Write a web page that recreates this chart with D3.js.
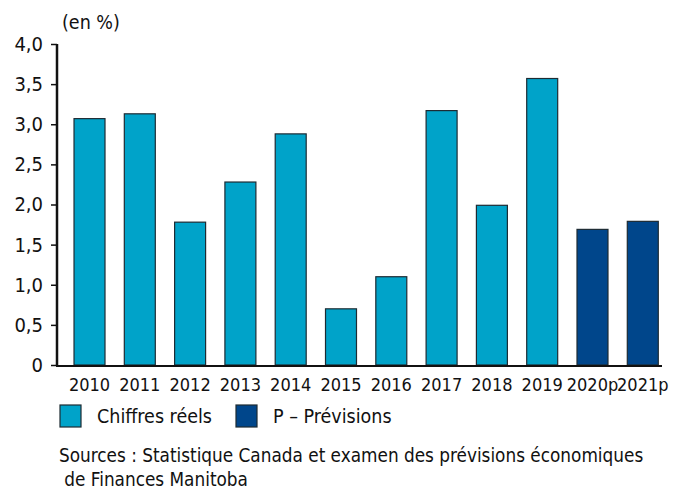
<!DOCTYPE html>
<html>
<head>
<meta charset="utf-8">
<script src="https://cdn.jsdelivr.net/npm/d3@7"></script>
<style>
  body { margin: 0; background: #fff; }
  svg text { font-family: "DejaVu Sans Condensed", "Liberation Sans Narrow", sans-serif; fill: #111; }
</style>
</head>
<body>
<svg id="chart" width="682" height="493"></svg>
<script>
const years = ["2010", "2011", "2012", "2013", "2014", "2015", "2016", "2017", "2018", "2019", "2020p", "2021p"];
const values = [3.07, 3.13, 1.78, 2.28, 2.88, 0.70, 1.10, 3.17, 1.99, 3.57, 1.69, 1.79];
const forecast = [false, false, false, false, false, false, false, false, false, false, true, true];
const yTicks = [0, 0.5, 1, 1.5, 2, 2.5, 3, 3.5, 4];
const legendLabels = ["Chiffres réels", "P – Prévisions"];
const sourceLines = ["Sources : Statistique Canada et examen des prévisions économiques", " de Finances Manitoba"];

const colors = { actual: "#00a3c9", forecast: "#00468b" };

const svg = d3.select("#chart");

const x = d3.scaleBand().domain(years).range([54.7, 677.6]).paddingInner(0.384).paddingOuter(0.384);
const y = d3.scaleLinear().domain([0, 4]).range([365, 44]);

// y axis
const fmt = (d) => (d === 0 ? "0" : d3.format(".1f")(d).replace(".", ","));
const yAxis = svg.append("g")
  .attr("transform", "translate(57,0)")
  .call(d3.axisLeft(y).tickValues(yTicks).tickFormat(fmt).tickSize(6).tickPadding(8));
yAxis.select(".domain").remove();
yAxis.selectAll(".tick line").attr("stroke", "#111").attr("stroke-width", 1.5);
yAxis.selectAll(".tick text").style("font-size", "20px");

svg.append("text").attr("x", 62).attr("y", 29).style("font-size", "19.5px").text("(en %)");

// bars
svg.append("g")
  .selectAll("rect")
  .data(years)
  .join("rect")
  .attr("x", (d) => x(d))
  .attr("y", (d, i) => y(values[i]))
  .attr("width", x.bandwidth())
  .attr("height", (d, i) => y(0) - y(values[i]))
  .attr("fill", (d, i) => (forecast[i] ? colors.forecast : colors.actual))
  .attr("stroke", "#1d2b33")
  .attr("stroke-width", 1.2);

// axis lines
svg.append("line").attr("x1", 57).attr("x2", 57).attr("y1", 44).attr("y2", 366)
  .attr("stroke", "#111").attr("stroke-width", 2.5);
svg.append("line").attr("x1", 56).attr("x2", 662).attr("y1", 366).attr("y2", 366)
  .attr("stroke", "#111").attr("stroke-width", 2);

// x labels
svg.append("g")
  .selectAll("text")
  .data(years)
  .join("text")
  .attr("x", (d) => x(d) + x.bandwidth() / 2)
  .attr("y", 391)
  .attr("text-anchor", "middle")
  .style("font-size", "18px")
  .text((d) => d);

// legend
const legend = svg.append("g");
const legendX = [60, 236];
legendLabels.forEach((label, i) => {
  legend.append("rect")
    .attr("x", legendX[i]).attr("y", 405).attr("width", 21).attr("height", 22)
    .attr("fill", i === 0 ? colors.actual : colors.forecast)
    .attr("stroke", "#1d2b33").attr("stroke-width", 1.2);
  legend.append("text")
    .attr("x", legendX[i] + 37).attr("y", 423)
    .style("font-size", "19.5px")
    .text(label);
});

// sources
svg.append("g")
  .selectAll("text")
  .data(sourceLines)
  .join("text")
  .attr("x", 59)
  .attr("y", (d, i) => 462 + i * 24)
  .style("font-size", "18.8px")
  .attr("xml:space", "preserve")
  .text((d) => d);
</script>
</body>
</html>
